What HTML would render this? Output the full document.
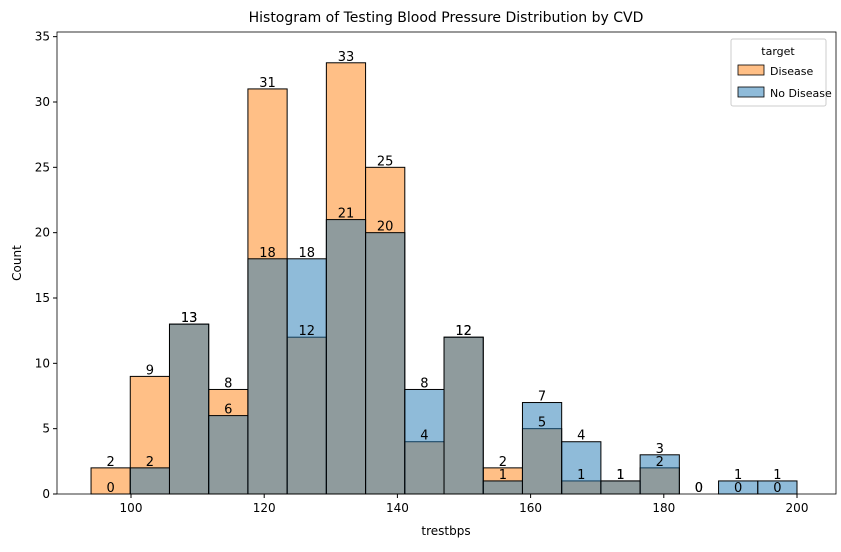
<!DOCTYPE html>
<html><head><meta charset="utf-8"><style>
body{margin:0;background:#fff;}
text{font-family:"DejaVu Sans","Liberation Sans",sans-serif;}
</style></head><body>
<svg id="chart" width="841" height="547" xmlns="http://www.w3.org/2000/svg">
<text x="446" y="22" font-size="14" text-anchor="middle">Histogram of Testing Blood Pressure Distribution by CVD</text>
<g id="bars"></g>
<g id="labels"></g>
<rect x="57" y="32" width="779" height="462" fill="none" stroke="#000" stroke-width="0.8"/>
<g id="axes"></g>
<text x="446" y="535" font-size="12" text-anchor="middle">trestbps</text>
<text x="21" y="263" font-size="12" text-anchor="middle" transform="rotate(-90 21 263)">Count</text>
<g>
<rect x="731" y="39" width="95" height="67" fill="#fff" stroke="#ccc" rx="2"/>
<text x="778" y="55" font-size="11" text-anchor="middle">target</text>
<rect x="738" y="65" width="26" height="10" fill="#ffbf86" stroke="#000" stroke-width="0.8"/>
<text x="770" y="75" font-size="11">Disease</text>
<rect x="738" y="87" width="26" height="10" fill="#8fbbd9" stroke="#000" stroke-width="0.8"/>
<text x="770" y="97" font-size="11">No Disease</text>
</g>
</svg>
<script>
const binStart = 94, binWidth = 106/18;
const disease = [2,9,13,8,31,12,33,25,4,12,2,5,1,1,2,0,0,0];
const noDisease = [0,2,13,6,18,18,21,20,8,12,1,7,4,1,3,0,1,1];
const xTicks = [100,120,140,160,180,200];
const yTicks = [0,5,10,15,20,25,30,35];
const NS="http://www.w3.org/2000/svg";
const xs = v => 131 + (v-100)*6.66;
const ys = v => 494 - v*13.067;
const bars=document.getElementById('bars'), labels=document.getElementById('labels'), axes=document.getElementById('axes');
function mk(tag,attrs,parent){const e=document.createElementNS(NS,tag);for(const k in attrs)e.setAttribute(k,attrs[k]);parent.appendChild(e);return e;}
function series(vals,color,name){
  vals.forEach((v,i)=>{
    const x0=xs(binStart+i*binWidth), x1=xs(binStart+(i+1)*binWidth);
    if(v>0){
      const r=mk('rect',{x:x0,y:ys(v),width:x1-x0,height:ys(0)-ys(v),fill:color,'fill-opacity':0.5,stroke:'#000','stroke-width':1},bars);
      
      
    }
    const t=mk('text',{x:(x0+x1)/2,y:ys(v)-2,'font-size':13,'text-anchor':'middle'},labels);
    t.textContent=v;
    
    
  });
}
series(disease,'#ff7f0e','disease');
series(noDisease,'#1f77b4','no-disease');
xTicks.forEach(v=>{
  mk('line',{x1:xs(v),x2:xs(v),y1:494,y2:498,stroke:'#000'},axes);
  const t=mk('text',{x:xs(v),y:512,'font-size':12,'text-anchor':'middle'},axes);
  t.textContent=v;
  
  
});
yTicks.forEach(v=>{
  mk('line',{x1:53,x2:57,y1:ys(v),y2:ys(v),stroke:'#000'},axes);
  const t=mk('text',{x:50,y:ys(v)+4,'font-size':12,'text-anchor':'end'},axes);
  t.textContent=v;
  
  
});
</script>
</body></html>
